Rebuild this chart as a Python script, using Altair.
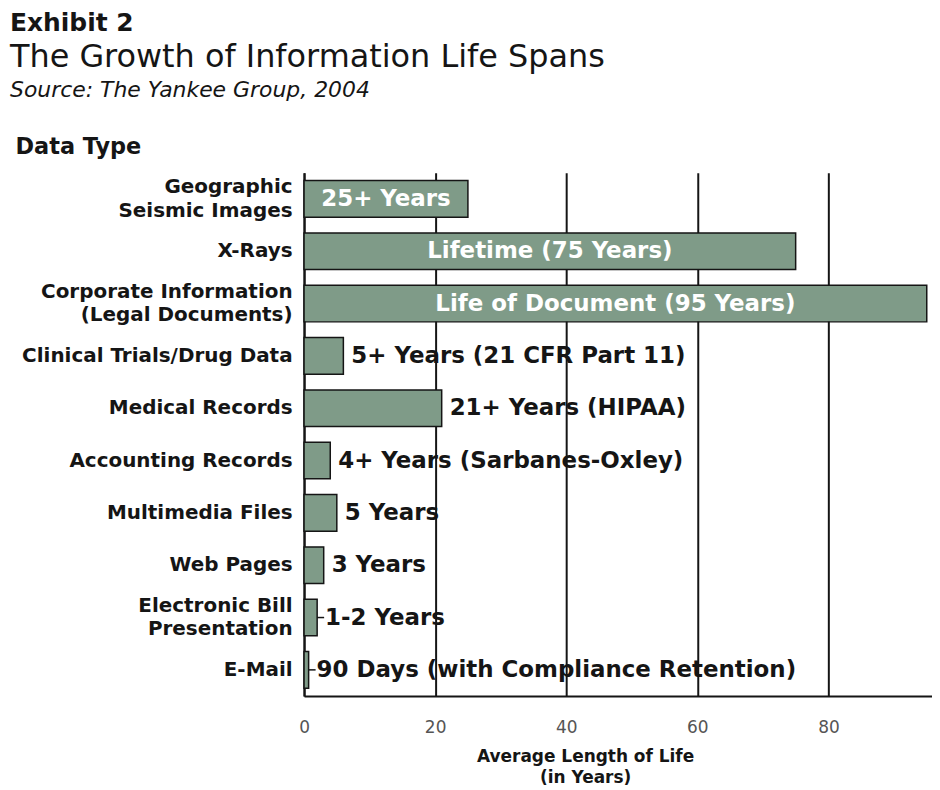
import altair as alt
import pandas as pd

categories = [
    "Geographic|Seismic Images",
    "X-Rays",
    "Corporate Information|(Legal Documents)",
    "Clinical Trials/Drug Data",
    "Medical Records",
    "Accounting Records",
    "Multimedia Files",
    "Web Pages",
    "Electronic Bill|Presentation",
    "E-Mail",
]
years = [25, 75, 95, 6, 21, 4, 5, 3, 2, 0.7]
labels = [
    "25+ Years",
    "Lifetime (75 Years)",
    "Life of Document (95 Years)",
    "5+ Years (21 CFR Part 11)",
    "21+ Years (HIPAA)",
    "4+ Years (Sarbanes-Oxley)",
    "5 Years",
    "3 Years",
    "1-2 Years",
    "90 Days (with Compliance Retention)",
]
inside = [True, True, True, False, False, False, False, False, False, False]
leader = [False, False, False, False, False, False, False, False, True, True]
x_ticks = [0, 20, 40, 60, 80]

df = pd.DataFrame({"cat": categories, "years": years, "label": labels,
                   "inside": inside, "leader": leader})

FONT = "DejaVu Sans"
BAR = "#7f9b88"
INK = "#151515"

y_enc = alt.Y("cat:N", sort=categories,
              scale=alt.Scale(paddingInner=0.3, paddingOuter=0.15),
              axis=alt.Axis(title="Data Type", titleAngle=0, titleAlign="left",
                            titleBaseline="alphabetic", titleX=-290, titleY=-19,
                            titleFont=FONT, titleFontSize=22.5, titleFontWeight="bold",
                            titleColor=INK,
                            labelExpr="split(datum.label, '|')",
                            labelOffset=alt.condition("indexof(datum.value, '|') >= 0",
                                                      alt.value(-12), alt.value(0)),
                            labelFont=FONT, labelFontSize=20, labelFontWeight="bold",
                            labelColor=INK, labelLineHeight=24, labelPadding=12,
                            labelLimit=320,
                            ticks=False, domain=True, domainColor=INK, domainWidth=2,
                            grid=False))
x_scale = alt.Scale(domain=[0, 95.8], nice=False)

bars = alt.Chart(df).mark_bar(color=BAR, stroke=INK, strokeWidth=1.5).encode(
    y=y_enc,
    x=alt.X("years:Q", scale=x_scale,
            axis=alt.Axis(values=x_ticks, title=["Average Length of Life", "(in Years)"],
                          titleFont=FONT, titleFontSize=17, titleFontWeight="bold",
                          titleColor=INK, titleX=282, titleY=53, titleLineHeight=21,
                          labelFont=FONT, labelFontSize=17, labelColor="#555",
                          labelFlush=False,
                          labelPadding=24, ticks=False, domainColor=INK, domainWidth=2,
                          grid=True, gridColor=INK, gridWidth=2)),
)

text_in = alt.Chart(df).transform_filter("datum.inside").transform_calculate(
    mid="datum.years / 2").mark_text(
    font=FONT, fontSize=23, fontWeight="bold", color="white", align="center",
    baseline="middle").encode(
    y=alt.Y("cat:N", sort=categories), x=alt.X("mid:Q", scale=x_scale), text="label:N")

text_out = alt.Chart(df).transform_filter("!datum.inside").mark_text(
    font=FONT, fontSize=23, fontWeight="bold", color=INK, align="left",
    baseline="middle", dx=8).encode(
    y=alt.Y("cat:N", sort=categories), x=alt.X("years:Q", scale=x_scale), text="label:N")

leaders = alt.Chart(df).transform_filter("datum.leader").mark_rule(
    color=INK, strokeWidth=1.5, x2Offset=7).encode(
    y=alt.Y("cat:N", sort=categories), x=alt.X("years:Q", scale=x_scale),
    x2="years:Q")

def header(txt, y, size, weight="normal", style="normal"):
    return alt.Chart(pd.DataFrame({"t": [txt]})).mark_text(
        font=FONT, fontSize=size, fontWeight=weight, fontStyle=style, color=INK,
        align="left", baseline="alphabetic").encode(
        x=alt.value(-295), y=alt.value(y), text="t:N")

title_lines = ["Exhibit 2", "The Growth of Information Life Spans", "Source: The Yankee Group, 2004"]

chart = alt.layer(
    bars, leaders, text_in, text_out,
    header(title_lines[0], -142, 25, weight="bold"),
    header(title_lines[1], -106, 32),
    header(title_lines[2], -76, 22, style="italic"),
).properties(
    width=630, height=525,
    autosize=alt.AutoSizeParams(type="none"),
    padding={"left": 297, "top": 164, "right": 0, "bottom": 92},
).configure_view(stroke=None)

chart.save("out.html", embed_options={"renderer": "svg", "actions": False})
